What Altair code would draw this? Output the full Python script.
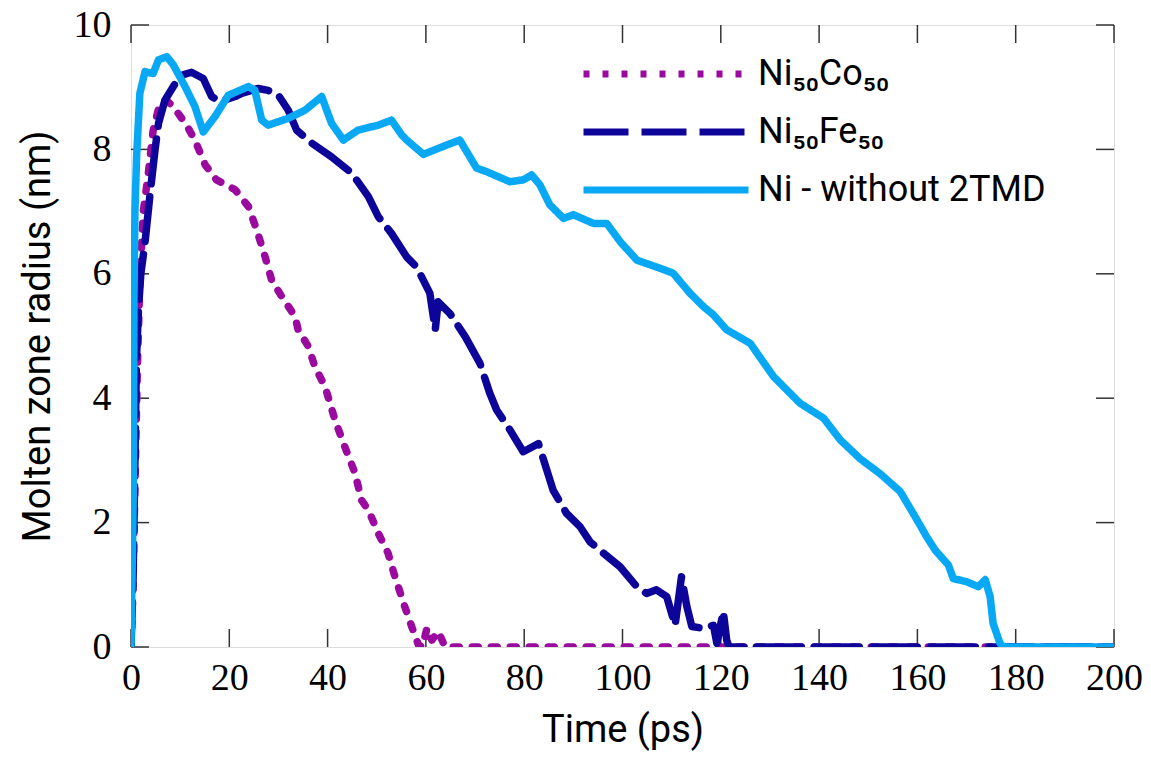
import altair as alt
import pandas as pd

# ---- data ----
co_t = [0, 0.4, 0.8, 1.3, 1.8, 2.5, 3.5, 4.5, 5.9, 7.3, 8.6, 11.3, 13.0, 15.1, 17.4, 21.2, 23.9,
        25.6, 27.3, 28.6, 30.7, 33.4, 34.0, 36.1, 37.4, 39.5, 41.5, 43.5, 45.6, 46.9, 48.3, 50.3,
        52.3, 53.7, 55.7, 57.1, 58.5, 59.3, 60.2, 61.2, 62.5, 63.9, 200]
co_r = [0, 1.0, 2.6, 4.5, 5.9, 7.0, 7.6, 8.3, 8.75, 8.78, 8.69, 8.39, 8.15, 7.75, 7.51, 7.35, 7.08,
        6.70, 6.27, 5.90, 5.63, 5.31, 5.10, 4.83, 4.51, 4.18, 3.65, 3.22, 2.79, 2.36, 2.20, 1.83,
        1.51, 1.13, 0.65, 0.33, 0.03, 0.0, 0.30, 0.11, 0.25, 0.0, 0.0]

fe_t = [0, 0.4, 0.8, 1.1, 1.5, 2.0, 2.85, 3.9, 4.9, 5.6, 6.9, 9.0, 10.6, 12.3, 14.7, 16.4, 18.1,
        21.2, 22.5, 25.9, 27.9, 30.0, 32.0, 33.7, 36.8, 40.8, 44.9, 48.3, 50.3, 53.0, 56.1, 58.1,
        60.8, 61.9, 62.5, 64.9, 68.0, 71.0, 73.0, 74.4, 77.1, 79.8, 82.9, 85.9, 88.6, 91.4, 93.4,
        96.1, 99.5, 102.9, 104.9, 106.9, 109.0, 110.7, 112.0, 113.1, 114.1, 116.4, 118.5, 119.2,
        120.5, 121.2, 121.7, 200]
fe_r = [0, 1.0, 3.0, 4.6, 5.4, 6.0, 6.5, 7.3, 8.0, 8.42, 8.79, 9.06, 9.20, 9.24, 9.14, 8.85, 8.77,
        8.85, 8.90, 8.98, 8.95, 8.87, 8.63, 8.31, 8.10, 7.88, 7.62, 7.24, 6.92, 6.65, 6.27, 6.11,
        5.69, 5.10, 5.55, 5.36, 4.99, 4.56, 4.08, 3.81, 3.49, 3.14, 3.27, 2.52, 2.15, 1.93, 1.69,
        1.51, 1.29, 0.97, 0.86, 0.92, 0.81, 0.35, 1.13, 0.65, 0.33, 0.30, 0.35, 0.06,
        0.57, 0.11, 0.0, 0.0]

ni_t = [0, 0.47, 0.6, 0.8, 1.15, 1.8, 2.85, 4.5, 5.6, 7.3, 8.6, 11.0, 13.0, 14.7, 17.1, 19.8,
        23.9, 25.2, 26.6, 27.9, 32.0, 35.4, 38.8, 40.8, 43.2, 46.2, 50.3, 53.0, 55.1, 56.1, 59.5,
        64.2, 66.9, 70.3, 72.4, 77.1, 79.8, 81.5, 83.2, 85.2, 88.0, 90.0, 94.1, 96.8, 99.5, 102.9,
        107.6, 110.3, 113.7, 116.5, 118.5, 121.2, 126.0, 130.7, 136.1, 140.9, 144.3, 148.3,
        152.5, 156.5, 159.5, 161.9, 163.6, 166.3, 167.3, 170.0, 172.4, 173.8, 174.8, 175.4,
        176.8, 177.5, 200]
ni_r = [0, 2.5, 5.6, 7.0, 7.9, 8.9, 9.25, 9.22, 9.44, 9.49, 9.36, 9.01, 8.69, 8.28, 8.53, 8.87,
        9.01, 8.95, 8.47, 8.39, 8.50, 8.63, 8.85, 8.42, 8.15, 8.31, 8.39, 8.47, 8.23, 8.15, 7.92,
        8.07, 8.15, 7.70, 7.64, 7.48, 7.51, 7.59, 7.43, 7.11, 6.89, 6.95, 6.81, 6.81, 6.52, 6.22,
        6.09, 6.01, 5.69, 5.47, 5.34, 5.10, 4.88, 4.35, 3.92, 3.68, 3.33, 3.03,
        2.78, 2.50, 2.10, 1.77, 1.56, 1.32, 1.10, 1.05, 0.97, 1.08, 0.81, 0.38,
        0.06, 0.0, 0.0]

series_names = ["Ni\u2085\u2080Co\u2085\u2080", "Ni\u2085\u2080Fe\u2085\u2080", "Ni - without 2TMD"]
series_colors = ["#9B0A9E", "#0D0499", "#08A8F5"]
series_dashes = [[6, 13], [45, 13], [1, 0]]

x_ticks = [0, 20, 40, 60, 80, 100, 120, 140, 160, 180, 200]
y_ticks = [0, 2, 4, 6, 8, 10]

W, H = 983, 622

frames = []
for name, ts, rs in zip(series_names, [co_t, fe_t, ni_t], [co_r, fe_r, ni_r]):
    frames.append(pd.DataFrame({"t": ts, "r": rs, "series": name, "i": range(len(ts))}))

xscale = alt.Scale(domain=[0, 200], nice=False, zero=False)
yscale = alt.Scale(domain=[0, 10], nice=False, zero=False)
cscale = alt.Scale(domain=series_names, range=series_colors)
dscale = alt.Scale(domain=series_names, range=series_dashes)

legend = alt.Legend(
    title=None, orient="none", legendX=504, legendY=18,
    symbolType="M-3,0H3", symbolSize=55 * 55, symbolStrokeWidth=7,
    labelFont="Roboto", labelFontSize=36, labelColor="black",
    labelOffset=61, rowPadding=9, labelLimit=500,
)

layers = []
for k, df in enumerate(frames):
    enc = dict(
        x=alt.X("t:Q", scale=xscale,
                axis=alt.Axis(values=x_ticks, format="d", title="Time (ps)", ticks=False, domain=False,
                              grid=False, labelFlush=False,
                              labelFont="Liberation Serif", labelFontSize=38, labelColor="black",
                              labelPadding=12, titleFont="Roboto", titleFontSize=38,
                              titleFontWeight="normal", titleColor="black", titlePadding=14)),
        y=alt.Y("r:Q", scale=yscale,
                axis=alt.Axis(values=y_ticks, format="d", title="Molten zone radius (nm)", ticks=False,
                              domain=False, grid=False, labelFlush=False,
                              labelFont="Liberation Serif", labelFontSize=38,
                              labelColor="black", labelPadding=20, titleFont="Roboto",
                              titleFontSize=38, titleFontWeight="normal", titleColor="black",
                              titlePadding=16)),
        color=alt.Color("series:N", scale=cscale, legend=legend),
        strokeDash=alt.StrokeDash("series:N", scale=dscale, legend=legend),
        order="i:Q",
    )
    layers.append(
        alt.Chart(df).mark_line(strokeWidth=7.5, strokeCap="round", strokeJoin="round", clip=True).encode(**enc)
    )

xt = pd.DataFrame({"v": x_ticks})
yt = pd.DataFrame({"v": y_ticks})
tick_color = "#333333"
tb = alt.Chart(xt).mark_rule(color=tick_color, strokeWidth=1.5).encode(
    x=alt.X("v:Q", scale=xscale), y=alt.value(H), y2=alt.value(H - 18))
tt = alt.Chart(xt).mark_rule(color=tick_color, strokeWidth=1.5).encode(
    x=alt.X("v:Q", scale=xscale), y=alt.value(0), y2=alt.value(18))
tl = alt.Chart(yt).mark_rule(color=tick_color, strokeWidth=1.5).encode(
    y=alt.Y("v:Q", scale=yscale), x=alt.value(0), x2=alt.value(18))
tr = alt.Chart(yt).mark_rule(color=tick_color, strokeWidth=1.5).encode(
    y=alt.Y("v:Q", scale=yscale), x=alt.value(W), x2=alt.value(W - 18))

chart = alt.layer(tb, tt, tl, tr, *layers).properties(
    width=W, height=H,
    padding={"left": 131, "top": 25, "right": 37, "bottom": 110},
    autosize=alt.AutoSizeParams(type="none"),
).configure_view(stroke="#222222", strokeWidth=1.5).configure(background="white")

chart.save("out.html", embed_options={"renderer": "svg", "actions": False})
